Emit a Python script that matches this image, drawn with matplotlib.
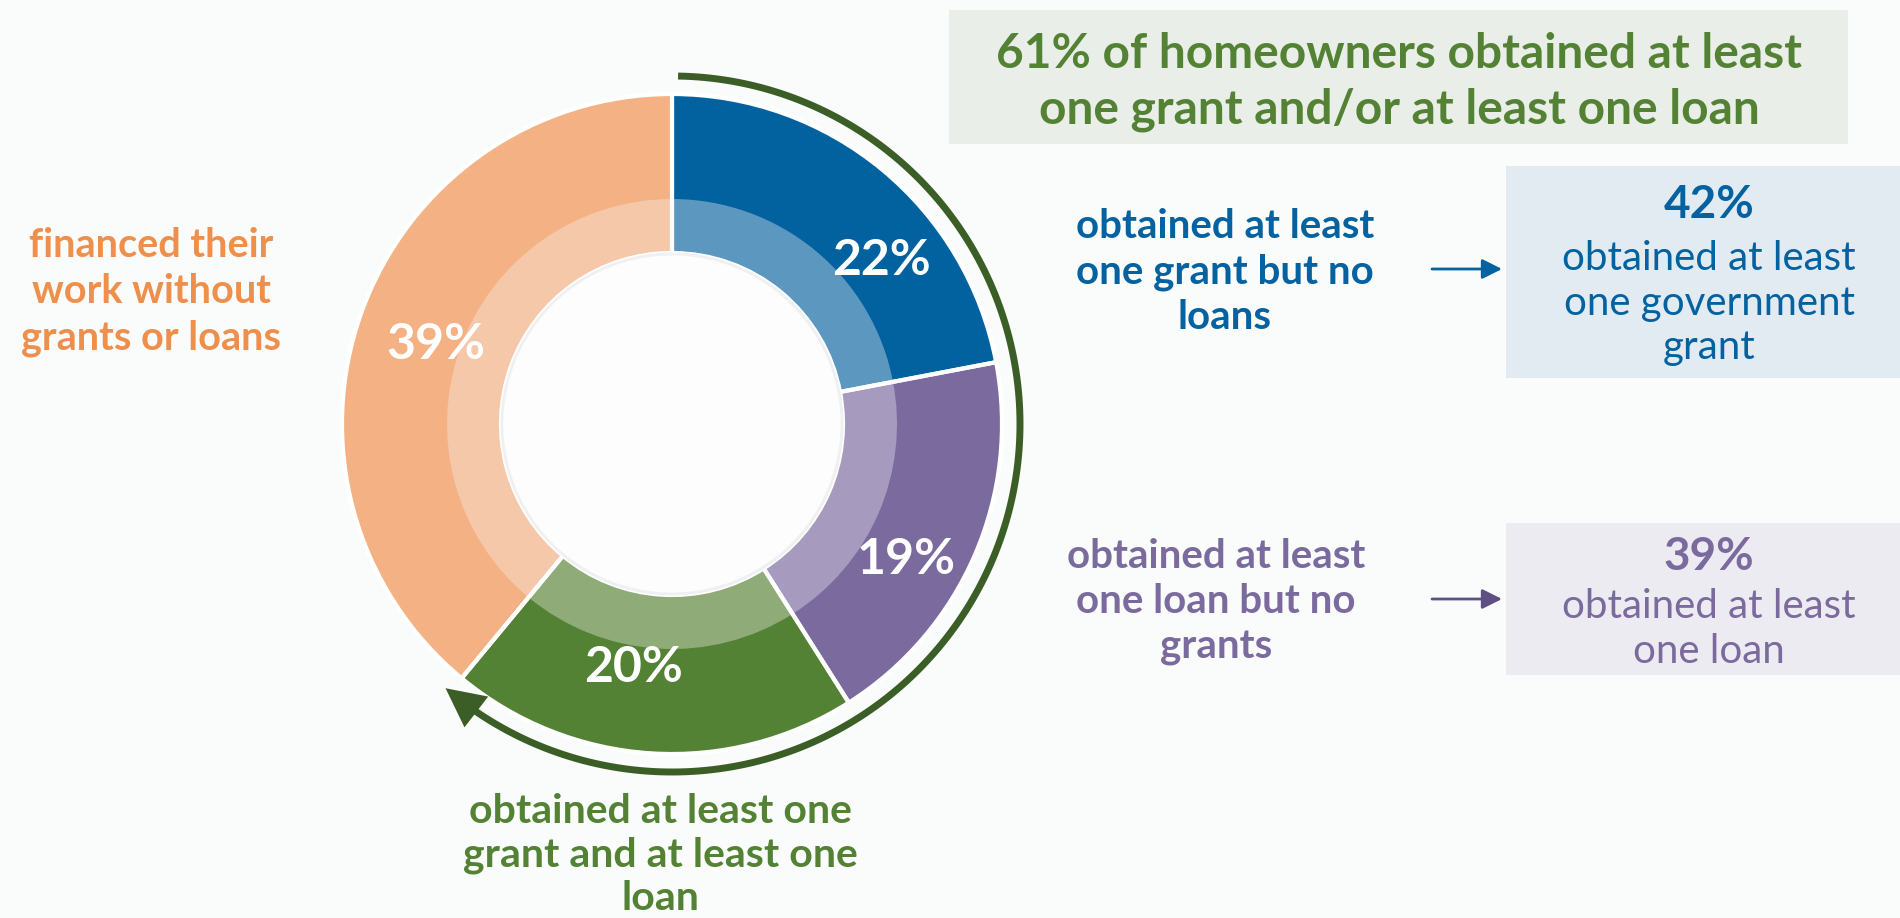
import matplotlib
matplotlib.use('Agg')
import numpy as np
import matplotlib.pyplot as plt
from matplotlib.patches import Circle, Rectangle

# shares of homeowners by financing type (clockwise from the top)
segments = ['grant but no loans', 'loan but no grants', 'grant and loan', 'no grants or loans']
shares = [22, 19, 20, 39]
dark = ['#02629F', '#7A6A9D', '#548235', '#F4B183']
light = ['#5B97BF', '#A69BBE', '#8FAC78', '#F4C8A9']
grant_share = 42
loan_share = 39
any_share = sum(shares[:3])

W, H = 1900, 918
BG = '#FAFBFB'
plt.rcParams['font.family'] = ['Lato', 'DejaVu Sans']

fig = plt.figure(figsize=(19, 9.18), dpi=100)
fig.patch.set_facecolor(BG)
ax = fig.add_axes([0, 0, 1, 1])
ax.set_facecolor(BG)

cx, cy = 672, H - 424
R, R_mid, R_hole = 330, 225, 171

# outer dark ring (full width), then light inner band, then white dividers on top
wedges, _, pcts = ax.pie(shares, radius=R, center=(cx, cy), startangle=90, counterclock=False,
                         colors=dark, autopct='%d%%', pctdistance=0.78,
                         wedgeprops=dict(width=R - R_hole, linewidth=0),
                         textprops=dict(color='white', fontsize=36, fontweight='bold'))
ax.pie(shares, radius=R_mid, center=(cx, cy), startangle=90, counterclock=False,
       colors=light, wedgeprops=dict(width=R_mid - R_hole, linewidth=0))
ax.pie(shares, radius=R, center=(cx, cy), startangle=90, counterclock=False,
       wedgeprops=dict(width=R - R_hole, facecolor='none', edgecolor='white', linewidth=3))
ax.add_patch(Circle((cx, cy), R_hole - 1, facecolor='#FDFDFD', edgecolor='#EEF0F2', lw=2, zorder=2))

# label placement inside the ring (angle in degrees, distance in px)
label_spots = [(38, 266), (-30, 271), (-99, 247), (161.5, 249)]
for txt, (ang, dist) in zip(pcts, label_spots):
    txt.set_position((cx + dist * np.cos(np.radians(ang)), cy + dist * np.sin(np.radians(ang))))

# arc around the 61%
arc_col = '#3B5E27'
t = np.radians(np.linspace(89, 90 - any_share * 3.6 + 3, 200))
ax.plot(cx + 348 * np.cos(t), cy + 348 * np.sin(t), color=arc_col, lw=5, solid_capstyle='butt')
a0 = np.radians(90 - any_share * 3.6 + 5)
a1 = np.radians(90 - any_share * 3.6 - 1)
ax.annotate('', xy=(cx + 348 * np.cos(a1), cy + 348 * np.sin(a1)),
            xytext=(cx + 348 * np.cos(a0), cy + 348 * np.sin(a0)),
            arrowprops=dict(arrowstyle='-|>,head_length=1.0,head_width=0.5', color=arc_col,
                            lw=0, mutation_scale=28, shrinkA=0, shrinkB=0))

# title box
ax.add_patch(Rectangle((949, H - 144), 899, 134, facecolor='#E9EEE8', edgecolor='none'))
ax.text(1399, H - 82, f'{any_share}% of homeowners obtained at least\none grant and/or at least one loan',
        ha='center', va='center', fontsize=34.5, fontweight='bold', color='#548235', linespacing=1.3)

# left and bottom labels
ax.text(151, H - 292, 'financed their\nwork without\ngrants or loans', ha='center', va='center',
        fontsize=28.5, fontweight='bold', color='#EF8F4C', linespacing=1.3)
ax.text(660, H - 855, 'obtained at least one\ngrant and at least one\nloan', ha='center', va='center',
        fontsize=29.5, fontweight='bold', color='#548235', linespacing=1.22)

# right side: grant
blue = '#03629F'
ax.text(1225, H - 272, 'obtained at least\none grant but no\nloans', ha='center', va='center',
        fontsize=29, fontweight='bold', color=blue, linespacing=1.29)
ax.annotate('', xy=(1502, H - 269), xytext=(1432, H - 269),
            arrowprops=dict(arrowstyle='-|>,head_length=0.6,head_width=0.3', color=blue, lw=2,
                            mutation_scale=20, shrinkA=0, shrinkB=0))
ax.add_patch(Rectangle((1506, H - 378), 420, 212, facecolor='#E2EAF2', edgecolor='none'))
ax.text(1709, H - 205, f'{grant_share}%', ha='center', va='center', fontsize=33,
        fontweight='bold', color=blue)
ax.text(1709, H - 303, 'obtained at least\none government\ngrant', ha='center', va='center',
        fontsize=29, color=blue, linespacing=1.25)

# right side: loan
purple = '#7A6A9D'
ax.text(1216, H - 602, 'obtained at least\none loan but no\ngrants', ha='center', va='center',
        fontsize=29, fontweight='bold', color=purple, linespacing=1.29)
ax.annotate('', xy=(1502, H - 599), xytext=(1432, H - 599),
            arrowprops=dict(arrowstyle='-|>,head_length=0.6,head_width=0.3', color='#5E4F84', lw=2,
                            mutation_scale=20, shrinkA=0, shrinkB=0))
ax.add_patch(Rectangle((1506, H - 675), 420, 152, facecolor='#EDEBF2', edgecolor='none'))
ax.text(1709, H - 557, f'{loan_share}%', ha='center', va='center', fontsize=33,
        fontweight='bold', color=purple)
ax.text(1709, H - 629, 'obtained at least\none loan', ha='center', va='center',
        fontsize=29, color=purple, linespacing=1.25)

ax.set_xlim(0, W)
ax.set_ylim(0, H)
ax.set_aspect('auto')
ax.axis('off')

plt.savefig('out.png', dpi=100, facecolor=BG)
